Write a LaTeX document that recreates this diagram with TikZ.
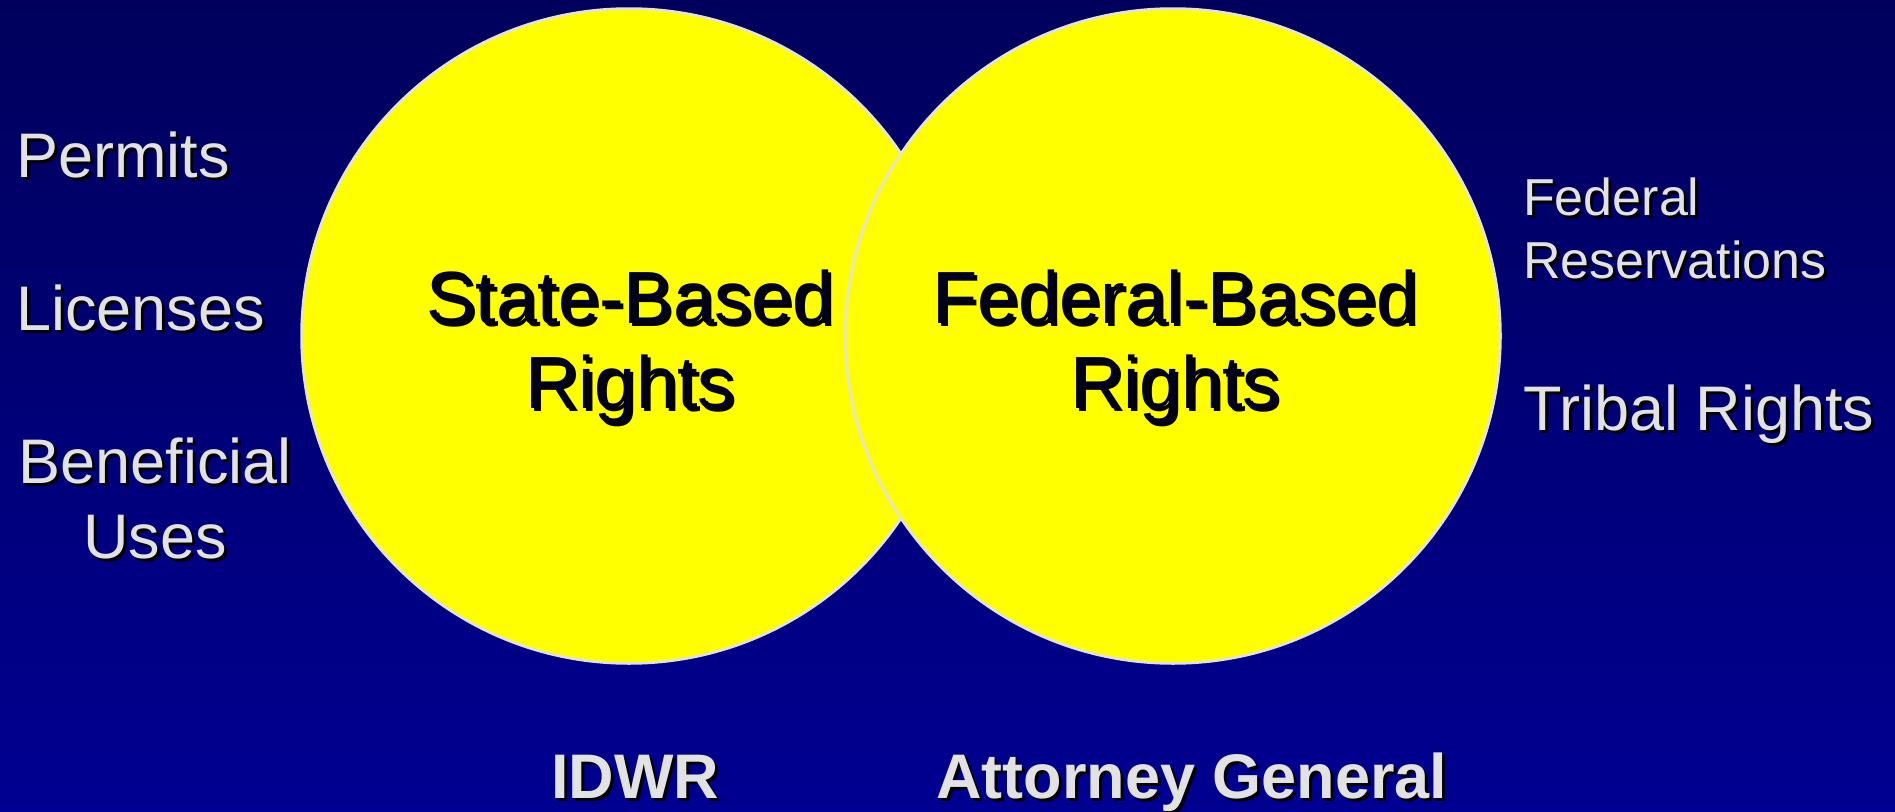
\documentclass[tikz,border=0pt]{standalone}
\usepackage{xcolor}
\usepackage{fontspec}
\setmainfont{Liberation Sans}
\usepackage{tikz}
\usetikzlibrary{positioning}
\definecolor{navytop}{RGB}{0,0,92}
\definecolor{navybottom}{RGB}{0,0,145}
\definecolor{ringgray}{RGB}{226,226,230}
\definecolor{ringyellow}{RGB}{255,255,0}
\definecolor{labelgray}{RGB}{226,226,226}
\definecolor{inkblack}{RGB}{0,0,28}
\newcommand{\shtext}[1]{\rlap{\kern3pt\raisebox{-3pt}{\color{black}#1}}#1}
\tikzset{
    Ring/.style = {circle, draw=ringgray, line width=2.5pt, fill=ringyellow, minimum size=655pt, inner sep=0pt},
    ringtext/.style = {align=center, inner sep=0pt, text=inkblack, font=\fontsize{74}{85}\selectfont},
    sidetext/.style = {align=left, inner sep=0pt, text=labelgray, font=\fontsize{63}{75}\selectfont},
    smalltext/.style = {align=left, inner sep=0pt, text=labelgray, font=\fontsize{52}{63}\selectfont},
    bottomtext/.style = {inner sep=0pt, text=labelgray, font=\fontsize{63}{75}\selectfont\bfseries},
}

\begin{document}
\begin{tikzpicture}[x=1pt, y=-1pt]
  \useasboundingbox (0,0) rectangle (1895,811);
  \shade[top color=navytop, bottom color=navybottom] (0,0) rectangle (1895,811);
  % the two sets
  \node[Ring] (state) at (629,336) {};
  \node[Ring] (federal) at (1173,336) {};
  \node[ringtext, anchor=base] (statetext) at (630,408) {\shtext{State-Based}\\\shtext{Rights}};
  \node[ringtext, anchor=base] (federaltext) at (1175,408) {\shtext{Federal-Based}\\\shtext{Rights}};
  % state side
  \node[sidetext, anchor=base west] (permits) at (16,177) {\shtext{Permits}};
  \node[sidetext, anchor=base west] (licenses) at (16,330) {\shtext{Licenses}};
  \node[sidetext, align=center, anchor=base] (beneficial) at (155,558) {\shtext{Beneficial}\\\shtext{Uses}};
  % federal side
  \node[smalltext, anchor=base west] (reservations) at (1523,278) {\shtext{Federal}\\\shtext{Reservations}};
  \node[sidetext, anchor=base west] (tribal) at (1523,430) {\shtext{Tribal Rights}};
  % who handles them
  \node[bottomtext, anchor=base] (idwr) at (635,798) {\shtext{IDWR}};
  \node[bottomtext, anchor=base] (attorney) at (1192,798) {\shtext{Attorney General}};
\end{tikzpicture}
\end{document}
